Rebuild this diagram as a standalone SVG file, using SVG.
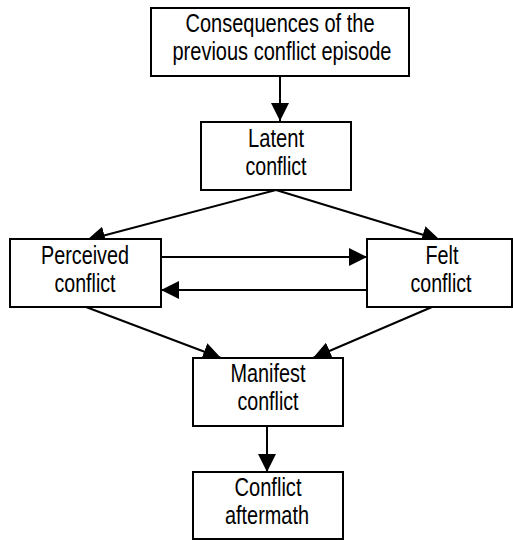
<svg xmlns="http://www.w3.org/2000/svg" width="513" height="540" viewBox="0 0 513 540">
<style>
rect{fill:#fff;stroke:#000;stroke-width:2}
text{font-family:"Liberation Sans",Arial,sans-serif;font-size:25px;text-anchor:middle;fill:#000}
.c line{stroke:#000;stroke-width:2;marker-end:url(#ah)}
</style>
<defs>
<marker id="ah" markerUnits="userSpaceOnUse" markerWidth="18" markerHeight="18" viewBox="0 0 18 18" refX="18" refY="9" orient="auto">
<path d="M0,0L18,9L0,18z" fill="#000"/>
</marker>
</defs>
<g class="c" id="connectors">
<line x1="280" y1="76" x2="280" y2="121"/>
<line x1="276" y1="190" x2="87" y2="240"/>
<line x1="276" y1="190" x2="440" y2="240"/>
<line x1="161" y1="257" x2="367" y2="257"/>
<line x1="367" y1="290" x2="161" y2="290"/>
<line x1="86" y1="307" x2="221" y2="358"/>
<line x1="432" y1="307" x2="313" y2="358"/>
<line x1="267" y1="426" x2="267" y2="472"/>
</g>
<g id="consequences"><rect x="151" y="8" width="258" height="68"/>
<text x="280" y="32" textLength="189" lengthAdjust="spacingAndGlyphs">Consequences of the</text>
<text x="282" y="60" textLength="219" lengthAdjust="spacingAndGlyphs">previous conflict episode</text></g>
<g id="latent"><rect x="201" y="122" width="150" height="68"/>
<text x="276" y="147" textLength="56" lengthAdjust="spacingAndGlyphs">Latent</text>
<text x="276" y="175" textLength="61" lengthAdjust="spacingAndGlyphs">conflict</text></g>
<g id="perceived"><rect x="10" y="239" width="151" height="68"/>
<text x="85" y="264" textLength="88" lengthAdjust="spacingAndGlyphs">Perceived</text>
<text x="85" y="292" textLength="61" lengthAdjust="spacingAndGlyphs">conflict</text></g>
<g id="felt"><rect x="367" y="239" width="145" height="68"/>
<text x="442" y="264" textLength="33" lengthAdjust="spacingAndGlyphs">Felt</text>
<text x="441" y="292" textLength="61" lengthAdjust="spacingAndGlyphs">conflict</text></g>
<g id="manifest"><rect x="193" y="358" width="150" height="68"/>
<text x="268" y="382" textLength="75" lengthAdjust="spacingAndGlyphs">Manifest</text>
<text x="268" y="410" textLength="61" lengthAdjust="spacingAndGlyphs">conflict</text></g>
<g id="aftermath"><rect x="193" y="472" width="150" height="67"/>
<text x="268" y="496" textLength="67" lengthAdjust="spacingAndGlyphs">Conflict</text>
<text x="267" y="524" textLength="84" lengthAdjust="spacingAndGlyphs">aftermath</text></g>
</svg>
